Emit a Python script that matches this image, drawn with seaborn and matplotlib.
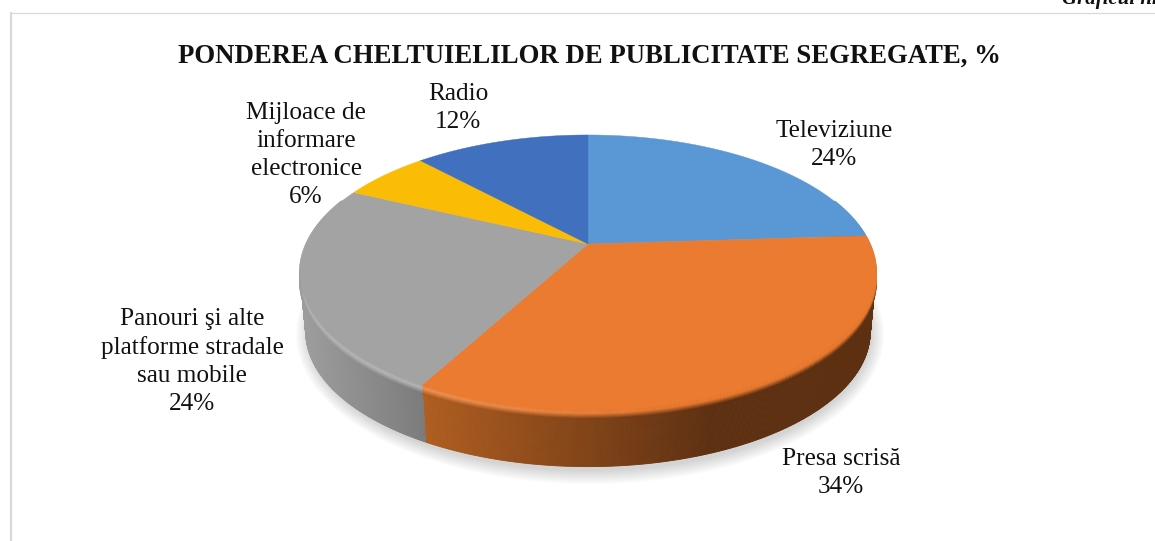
import numpy as np
import matplotlib
matplotlib.use("Agg")
import matplotlib.pyplot as plt
from matplotlib.collections import LineCollection
from matplotlib.patches import Ellipse
import seaborn as sns

categories = ["Televiziune", "Presa scrisă", "Panouri şi alte\nplatforme stradale\nsau mobile",
              "Mijloace de\ninformare\nelectronice", "Radio"]
shares = [24, 34, 24, 6, 12]
title = "PONDEREA CHELTUIELILOR DE PUBLICITATE SEGREGATE, %"
corner_note = "Graficul nr."

top_colors = ["#5A98D5", "#EA7B30", "#A3A3A3", "#FBBC05", "#4070BE"]
label_xy = [(834, 145), (841, 473), (192, 361.5), (306, 155), (458, 108)]

sns.set_theme(style="white")
plt.rcParams["font.family"] = ["Liberation Serif", "DejaVu Serif"]

W, H = 1155, 541
CX, CY = 588, 244
A, B, K = 281.7, 131.6, 0.207
DROP, SHRINK = 60, 0.98


def project(theta, scale=1.0, dy=0.0):
    u, v = np.sin(theta), np.cos(theta)
    w = 1 + K * v
    return CX + scale * A * u / w, CY + dy - scale * B * v / w


def mix(c1, c2, t):
    a, b = np.array(matplotlib.colors.to_rgb(c1)), np.array(matplotlib.colors.to_rgb(c2))
    return tuple(a + (b - a) * t)


fig = plt.figure(figsize=(W / 100, H / 100), dpi=100, facecolor="white")
ax = fig.add_axes([0, 0, 1, 1])
ax.set_xlim(0, W)
ax.set_ylim(H, 0)
ax.axis("off")

ax.plot([10.5, 10.5], [H, 12], color="#D9D9D9", lw=1.6, solid_capstyle="butt")
ax.plot([10, W], [12.5, 12.5], color="#D9D9D9", lw=0.9, solid_capstyle="butt")

# soft shadow under the disc
for i in range(14):
    grow = 2 * (14 - i)
    ax.add_patch(Ellipse((CX + 2, CY + DROP + 27 + 3), 2 * 280 + grow, 2 * 136 + grow,
                         color="#7F7F7F", alpha=0.022, lw=0))

edges = np.radians(np.concatenate([[0], np.cumsum(shares)]) * 3.6)


def wall_color(i, x):
    if i == 1:
        s = np.clip((x - 420) / 290, 0, 1)
        return mix("#B05E20", "#5E3012", s)
    if i == 2:
        s = np.clip((x - 305) / 115, 0, 1)
        return mix("#9C9C9C", "#7C7C7C", s)
    return mix(top_colors[i], "#333333", 0.5)


# side wall: only the front half of the disc can be seen
segments, seg_colors = [], []
for i in range(len(shares)):
    lo, hi = edges[i], edges[i + 1]
    th = np.linspace(lo, hi, max(3, int(np.degrees(hi - lo) * 3)))
    for a, b in zip(th[:-1], th[1:]):
        mid = (a + b) / 2
        x1, y1 = project(a)
        x2, y2 = project(b)
        x3, y3 = project(b, SHRINK, DROP)
        x4, y4 = project(a, SHRINK, DROP)
        if np.cos(mid) < 0.35:
            xm = (x1 + x2) / 2
            wc = wall_color(i, xm)
            ax.fill([x1, x2, x3, x4], [y1, y2, y3, y4], color=wc, lw=0.6, zorder=2)
            # bevel: lit on the left and front, fading into shadow on the right
            hl = np.clip((680 - xm) / 300, 0, 1)
            lit = mix(top_colors[i], "#FFFFFF", 0.22 * hl)
            for k in range(10):
                t = k / 9
                if t < 0.4:
                    c = mix(top_colors[i], lit, t / 0.4)
                else:
                    c = mix(lit, wc, (t - 0.4) / 0.6)
                segments.append([(x1, y1 + k), (x2, y2 + k)])
                seg_colors.append(c)
ax.add_collection(LineCollection(segments, colors=seg_colors, linewidths=1.4, zorder=3))

# top face
for i in range(len(shares)):
    th = np.linspace(edges[i], edges[i + 1], 200)
    xs, ys = project(th)
    ax.fill(np.r_[CX, xs], np.r_[CY, ys], color=top_colors[i], lw=0.3, zorder=4)

# labels
for name, share, (x, y) in zip(categories, shares, label_xy):
    ax.text(x, y, f"{name}\n{share}%", ha="center", va="center", fontsize=18.2,
            color="#111111", linespacing=1.34, zorder=6)

ax.text(589, 56, title, ha="center", va="center", fontsize=19.3, fontweight="bold", color="#111111")
ax.text(1062, 4, corner_note, ha="left", va="baseline", fontsize=15, fontweight="bold",
        style="italic", color="#111111")

fig.savefig("out.png", dpi=100)
